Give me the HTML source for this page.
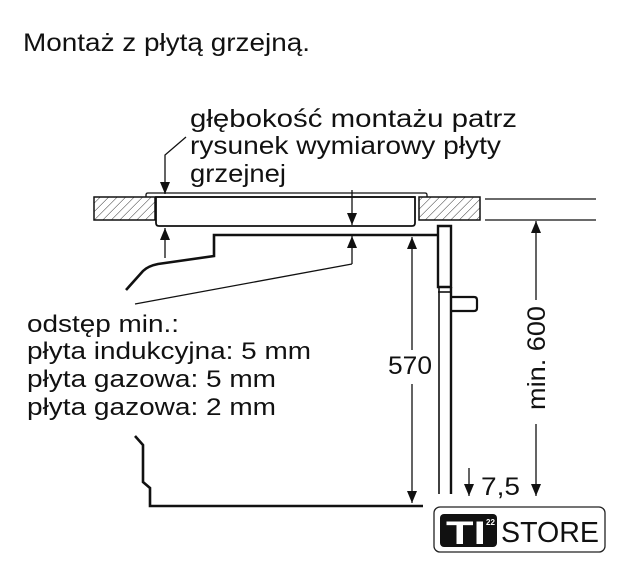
<!DOCTYPE html>
<html><head><meta charset="utf-8"><style>
html,body{margin:0;padding:0;background:#fff;}
svg{display:block;}
text{font-family:"Liberation Sans",Arial,sans-serif;fill:#111;}
</style></head><body>
<svg width="617" height="564" viewBox="0 0 617 564" xmlns="http://www.w3.org/2000/svg">
<defs>
<pattern id="h" width="6" height="6" patternUnits="userSpaceOnUse" patternTransform="rotate(45)">
<line x1="0" y1="0" x2="0" y2="6" stroke="#333" stroke-width="1"/>
</pattern>
<marker id="a" markerWidth="12" markerHeight="10" refX="12" refY="5" orient="auto" markerUnits="userSpaceOnUse" viewBox="0 0 12 10">
<path d="M0,0 L12,5 L0,10 Z" fill="#111"/>
</marker>
</defs>
<text x="23" y="51" font-size="25" textLength="287" lengthAdjust="spacingAndGlyphs">Montaż z płytą grzejną.</text>
<text x="190" y="127" font-size="25" textLength="327" lengthAdjust="spacingAndGlyphs">głębokość montażu patrz</text>
<text x="190" y="154" font-size="25" textLength="311" lengthAdjust="spacingAndGlyphs">rysunek wymiarowy płyty</text>
<text x="190" y="182" font-size="25" textLength="96" lengthAdjust="spacingAndGlyphs">grzejnej</text>
<text x="27" y="332" font-size="24" textLength="152" lengthAdjust="spacingAndGlyphs">odstęp min.:</text>
<text x="27" y="359" font-size="24" textLength="284" lengthAdjust="spacingAndGlyphs">płyta indukcyjna: 5 mm</text>
<text x="27" y="387" font-size="24" textLength="249" lengthAdjust="spacingAndGlyphs">płyta gazowa: 5 mm</text>
<text x="27" y="415" font-size="24" textLength="249" lengthAdjust="spacingAndGlyphs">płyta gazowa: 2 mm</text>

<g stroke="#111" fill="none">
<rect x="94" y="197" width="61" height="23" fill="url(#h)" stroke-width="1.5"/>
<rect x="419" y="197" width="61" height="23" fill="url(#h)" stroke-width="1.5"/>
<line x1="485" y1="199" x2="596" y2="199" stroke-width="1.3"/>
<line x1="485" y1="220" x2="596" y2="220" stroke-width="1.3"/>
<path d="M146,197 L146,195 Q146,193 148,193 L425,193 Q427,193 427,195 L427,197" stroke-width="1.3"/>
<path d="M156,197 L156,223 Q156,226 159,226 L412,226 Q415,226 415,223 L415,197 Z" stroke-width="1.8" fill="#fff"/>
<line x1="156" y1="197" x2="415" y2="197" stroke-width="1.5"/>
<path d="M186,137 L165,155 L165,194" stroke-width="1.3" marker-end="url(#a)"/>
<line x1="165" y1="258" x2="165" y2="228" stroke-width="1.3" marker-end="url(#a)"/>
<line x1="352" y1="190" x2="352" y2="225" stroke-width="1.3" marker-end="url(#a)"/>
<line x1="352" y1="264" x2="352" y2="236" stroke-width="1.3" marker-end="url(#a)"/>
<line x1="352" y1="264" x2="135" y2="304" stroke-width="1.3"/>
<path d="M438,235 L214,235 L214,256 L158,264 Q148,266 143,271 L126,290" stroke-width="2.6"/>
<path d="M438,287 L438,226 L451,226 L451,287 Z" stroke-width="2.4" fill="#fff"/>
<line x1="439" y1="287" x2="439" y2="494" stroke-width="1.6"/>
<line x1="451" y1="287" x2="451" y2="494" stroke-width="2.4"/>
<line x1="438" y1="292" x2="451" y2="292" stroke-width="1.6"/>
<path d="M451,297 L474,297 Q477,297 477,300 L477,308 Q477,311 474,311 L451,311" stroke-width="2.2"/>
<line x1="412" y1="350" x2="412" y2="237" stroke-width="1.3" marker-end="url(#a)"/>
<line x1="412" y1="384" x2="412" y2="503" stroke-width="1.3" marker-end="url(#a)"/>
<line x1="536" y1="300" x2="536" y2="221" stroke-width="1.3" marker-end="url(#a)"/>
<line x1="536" y1="424" x2="536" y2="496" stroke-width="1.3" marker-end="url(#a)"/>
<line x1="469" y1="468" x2="469" y2="496" stroke-width="1.3" marker-end="url(#a)"/>
<path d="M135,436 L143,445 L143,482 L150,488 L150,506 L423,506" stroke-width="2.6"/>
</g>
<text x="388" y="374" font-size="25" textLength="44" lengthAdjust="spacingAndGlyphs">570</text>
<text transform="translate(545,410) rotate(-90)" font-size="25" textLength="104" lengthAdjust="spacingAndGlyphs">min. 600</text>
<text x="481" y="495" font-size="25" textLength="39" lengthAdjust="spacingAndGlyphs">7,5</text>
<rect x="434" y="507" width="171" height="45" rx="6" fill="#fff" stroke="#222" stroke-width="1.3"/>
<rect x="440" y="514" width="57" height="33" rx="4" fill="#111"/>
<text x="446" y="544" font-size="32" font-weight="bold" style="fill:#fff" textLength="40" lengthAdjust="spacingAndGlyphs">TI</text>
<text x="486" y="525" font-size="8" font-weight="bold" style="fill:#fff">22</text>
<text x="501" y="542" font-size="29" textLength="98" lengthAdjust="spacingAndGlyphs">STORE</text>
</svg>
</body></html>
